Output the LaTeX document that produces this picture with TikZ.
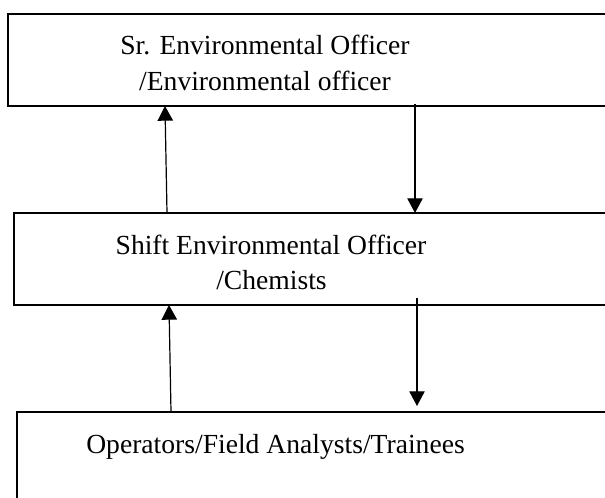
\documentclass[tikz,border=0pt]{standalone}
\usepackage{fontspec}
\setmainfont{Liberation Serif}
\usetikzlibrary{arrows.meta}
\begin{document}
\begin{tikzpicture}[x=0.75pt,y=-0.75pt,
  box/.style={draw,line width=1.2pt,inner sep=0pt,outer sep=0pt,anchor=north west},
  lbl/.style={anchor=base,inner sep=0pt,font=\fontsize{20.7}{27}\selectfont},
  arr/.style={line width=0.9pt,-{Triangle[width=11.5pt,length=11pt]}}]
  \useasboundingbox (0,0) rectangle (605,497);
  \clip (0,0) rectangle (605,497);
  % level boxes (they run past the right edge)
  \node[box,minimum width=519pt,minimum height=69pt] (top) at (8,14) {};
  \node[box,minimum width=514.5pt,minimum height=69pt] (mid) at (14,213) {};
  \node[box,minimum width=512.25pt,minimum height=111pt] (bot) at (17,412) {};
  % labels
  \node[lbl] (t1) at (265,54) {Sr. Environmental Officer};
  \node[lbl] (t2) at (265,90.5) {/Environmental officer};
  \node[lbl] (m1) at (271,254) {Shift Environmental Officer};
  \node[lbl] (m2) at (271.5,289.5) {/Chemists};
  \node[lbl] (b1) at (275.5,453) {Operators/Field Analysts/Trainees};
  % connector end points on the box borders
  \path (mid.north west) ++(153,0) coordinate (u1a);
  \path (top.south west) ++(157,0) coordinate (u1b);
  \path (top.south west) ++(407,-2) coordinate (d1a);
  \path (mid.north west) ++(401,0) coordinate (d1b);
  \path (bot.north west) ++(154,0) coordinate (u2a);
  \path (mid.south west) ++(155,0) coordinate (u2b);
  \path (mid.south west) ++(403,-7) coordinate (d2a);
  \path (bot.north west) ++(400,-6) coordinate (d2b);
  % reporting arrows
  \draw[arr] (u1a) -- (u1b);
  \draw[arr] (d1a) -- (d1b);
  \draw[arr] (u2a) -- (u2b);
  \draw[arr] (d2a) -- (d2b);
\end{tikzpicture}
\end{document}
